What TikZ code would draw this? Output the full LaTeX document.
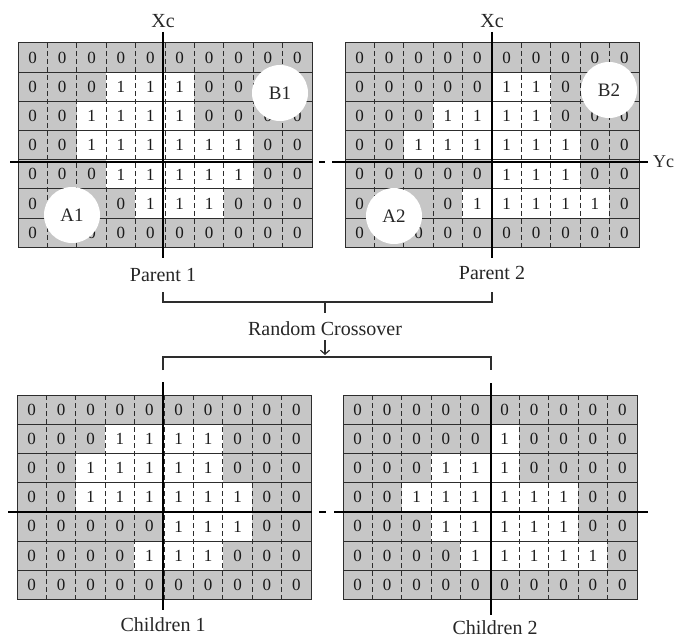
\documentclass[tikz,border=0pt]{standalone}
\usepackage{fontspec}
\setmainfont{Liberation Serif}
\usetikzlibrary{arrows.meta}

\definecolor{cellgray}{RGB}{198,198,198}
\definecolor{linegray}{RGB}{45,45,45}

\newcommand{\cw}{29.4}
\newcommand{\chh}{29.2}
\newcommand{\bitgrid}[4]{%
  \foreach \row [count=\r] in {#4} {
    \foreach \v [count=\c] in \row
      \node[bit\v] (#1-\r-\c) at ({#2+(\c-0.5)*\cw}, {#3+(\r-0.5)*\chh}) {\v};
  }
  \foreach \c in {1,...,9}
    \draw[colsep] ({#2+\c*\cw}, #3) -- ({#2+\c*\cw}, {#3+7*\chh});
  \foreach \r in {1,...,6}
    \draw[rowsep] (#2, {#3+\r*\chh}) -- ({#2+10*\cw}, {#3+\r*\chh});
  \draw[rowsep] (#2, #3) rectangle ({#2+10*\cw}, {#3+7*\chh});
}

\begin{document}
\begin{tikzpicture}[
    x=1pt, y=-1pt,
    cell/.style={minimum width=29.9pt, minimum height=29.7pt, inner sep=0,
                 outer sep=0, text=black!90, font=\fontsize{17}{17}\selectfont},
    bit0/.style={cell, fill=cellgray},
    bit1/.style={cell, fill=white},
    % z = a 0 cell that lies under a white disc
    bitz/.style={cell, fill=cellgray, execute at begin node=\setbox0\hbox\bgroup,
                 execute at end node=\egroup},
    colsep/.style={draw=linegray, line width=1pt, dash pattern=on 5pt off 3pt},
    rowsep/.style={draw=linegray, line width=1pt},
    axis/.style={draw=black, line width=2.4pt},
    lbl/.style={font=\fontsize{20}{24}\selectfont, text=black!85, inner sep=0},
    blob/.style={circle, fill=white, minimum size=56pt, inner sep=0,
                 font=\fontsize{19}{22}\selectfont, text=black!85},
    bracket/.style={draw=linegray, line width=1.2pt},
  ]
  \useasboundingbox (0,0) rectangle (677,639);

  \bitgrid{p1}{18}{43}{{0,0,0,0,0,0,0,0,0,0},{0,0,0,1,1,1,0,0,z,z},
    {0,0,1,1,1,1,0,0,0,0},{0,0,1,1,1,1,1,1,0,0},{0,0,0,1,1,1,1,1,0,0},
    {0,z,z,0,1,1,1,0,0,0},{0,z,0,0,0,0,0,0,0,0}}
  \bitgrid{p2}{345}{43}{{0,0,0,0,0,0,0,0,0,0},{0,0,0,0,0,1,1,0,z,z},
    {0,0,0,1,1,1,1,0,0,0},{0,0,1,1,1,1,1,1,0,0},{0,0,0,0,0,1,1,1,0,0},
    {0,z,z,0,1,1,1,1,1,0},{0,z,0,0,0,0,0,0,0,0}}
  \bitgrid{c1}{17}{395}{{0,0,0,0,0,0,0,0,0,0},{0,0,0,1,1,1,1,0,0,0},
    {0,0,1,1,1,1,1,0,0,0},{0,0,1,1,1,1,1,1,0,0},{0,0,0,0,0,1,1,1,0,0},
    {0,0,0,0,1,1,1,0,0,0},{0,0,0,0,0,0,0,0,0,0}}
  \bitgrid{c2}{343}{395}{{0,0,0,0,0,0,0,0,0,0},{0,0,0,0,0,1,0,0,0,0},
    {0,0,0,1,1,1,0,0,0,0},{0,0,1,1,1,1,1,1,0,0},{0,0,0,1,1,1,1,1,0,0},
    {0,0,0,0,1,1,1,1,1,0},{0,0,0,0,0,0,0,0,0,0}}

  \node[blob] (b1) at (280,93) {B1};
  \node[blob] (a1) at (72,215) {A1};
  \node[blob] (b2) at (609,90) {B2};
  \node[blob] (a2) at (394,216) {A2};

  \coordinate (xc1) at (163,32);
  \coordinate (xc2) at (492,32);
  \coordinate (xc3) at (163,382);
  \coordinate (xc4) at (491,383);
  \draw[axis] (xc1) -- (163,258);
  \draw[axis] (xc2) -- (492,258);
  \draw[axis] (xc3) -- (163,610);
  \draw[axis] (xc4) -- (491,615);
  \draw[axis] (10,162) -- (313,162) (332,162) -- (648,162);
  \draw[axis, dash pattern=on 6pt off 6pt] (319,162) -- (331,162);
  \draw[axis] (8,512) -- (312,512) (334,512) -- (648,512);
  \draw[axis, dash pattern=on 7pt off 6pt] (319,512) -- (332,512);

  \node[lbl, anchor=base] (xlab1) at (163,28) {Xc};
  \node[lbl, anchor=base] (xlab2) at (492,28) {Xc};
  \node[lbl, anchor=base west, font=\fontsize{18}{22}\selectfont] (ylab) at (653,168) {Yc};

  \node[lbl, anchor=base] (par1) at (163,281) {Parent 1};
  \node[lbl, anchor=base] (par2) at (492,279) {Parent 2};
  \node[lbl, anchor=base] (cross) at (325,335) {Random Crossover};
  \node[lbl, anchor=base] (ch1) at (163,631) {Children 1};
  \node[lbl, anchor=base] (ch2) at (495,634) {Children 2};

  \draw[bracket] (par1 |- 0,292) |- (cross |- 0,302) -| (par2 |- 0,292);
  \draw[bracket] (cross |- 0,302) -- (cross |- 0,313);
  \draw[bracket, -{Straight Barb[length=4pt, width=9pt]}] (cross |- 0,340) -- (cross |- 0,355);
  \draw[bracket] (xc3 |- 0,370) |- (cross |- 0,357) -| (xc4 |- 0,370);
\end{tikzpicture}
\end{document}
